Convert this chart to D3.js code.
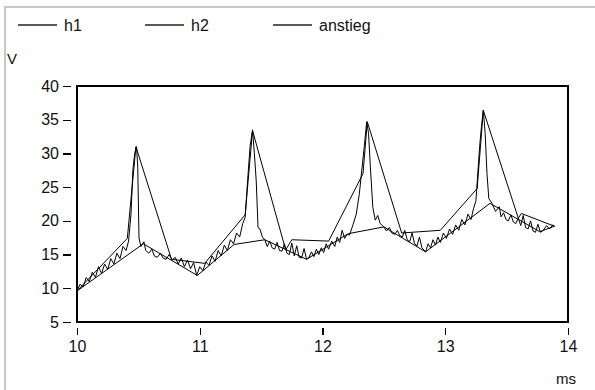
<!DOCTYPE html>
<html>
<head>
<meta charset="utf-8">
<script src="https://cdn.jsdelivr.net/npm/d3@7"></script>
<style>
  html, body { margin: 0; padding: 0; background: #fff; }
  svg { display: block; font-family: "Liberation Sans", Arial, sans-serif; }
</style>
</head>
<body>
<div id="chart"></div>
<script>
// series labels and ticks
var seriesNames = ['h1', 'h2', 'anstieg'];
var xTicks = [10, 11, 12, 13, 14];
var yTicks = [5, 10, 15, 20, 25, 30, 35, 40];

// h1: fine sampled signal [ms, V]
var h1 = [
  [10.000, 9.6], [10.025, 10.6], [10.050, 10.2], [10.075, 11.6], [10.100, 11.0],
  [10.125, 12.4], [10.150, 11.6], [10.175, 13.2], [10.200, 12.2], [10.225, 13.6],
  [10.250, 12.8], [10.275, 14.4], [10.300, 13.6], [10.325, 15.2], [10.350, 14.4],
  [10.375, 16.2], [10.400, 15.6], [10.420, 17.0], [10.440, 21.0], [10.455, 27.5],
  [10.470, 30.0], [10.485, 31.0], [10.495, 28.0], [10.505, 17.5], [10.520, 16.2],
  [10.545, 16.9], [10.560, 15.6], [10.585, 15.2], [10.610, 15.8], [10.630, 14.8],
  [10.655, 14.6], [10.680, 15.2], [10.700, 14.5], [10.725, 14.3], [10.750, 15.0],
  [10.775, 14.2], [10.800, 14.6], [10.825, 13.6], [10.850, 14.5], [10.875, 13.2],
  [10.900, 14.2], [10.925, 12.9], [10.950, 13.8], [10.975, 11.9], [11.000, 13.2],
  [11.025, 12.6], [11.050, 13.9], [11.075, 13.4], [11.100, 14.8], [11.125, 14.0],
  [11.150, 15.6], [11.175, 14.8], [11.200, 16.4], [11.225, 15.6], [11.250, 17.2],
  [11.275, 16.6], [11.300, 18.2], [11.325, 17.6], [11.350, 19.6], [11.370, 20.5],
  [11.390, 26.0], [11.410, 31.0], [11.430, 33.5], [11.445, 30.0], [11.460, 26.0],
  [11.475, 19.0], [11.490, 18.8], [11.510, 17.6], [11.530, 17.2], [11.550, 16.2],
  [11.570, 17.0], [11.590, 16.0], [11.610, 15.8], [11.630, 16.8], [11.650, 15.6],
  [11.670, 15.5], [11.690, 16.6], [11.710, 15.2], [11.730, 15.0], [11.750, 16.7],
  [11.770, 14.8], [11.790, 16.3], [11.810, 14.6], [11.830, 14.5], [11.850, 15.9],
  [11.870, 14.3], [11.890, 14.6], [11.910, 15.4], [11.930, 14.7], [11.950, 15.8],
  [11.970, 15.0], [11.990, 16.0], [12.010, 15.3], [12.030, 16.6], [12.050, 15.8],
  [12.075, 17.0], [12.100, 16.2], [12.120, 17.6], [12.140, 16.8], [12.160, 18.6],
  [12.180, 17.4], [12.200, 18.0], [12.220, 17.9], [12.250, 19.5], [12.275, 21.0],
  [12.300, 24.0], [12.320, 27.5], [12.340, 31.0], [12.360, 34.7], [12.375, 33.0],
  [12.390, 28.0], [12.410, 22.0], [12.430, 20.1], [12.450, 20.8], [12.470, 19.6],
  [12.500, 19.1], [12.520, 18.5], [12.545, 19.0], [12.565, 18.2], [12.590, 18.0],
  [12.610, 18.6], [12.630, 17.8], [12.650, 17.6], [12.670, 18.6], [12.690, 17.2],
  [12.710, 16.9], [12.730, 18.2], [12.750, 16.6], [12.770, 16.3], [12.790, 17.6],
  [12.810, 16.0], [12.840, 15.4], [12.860, 16.6], [12.880, 16.0], [12.900, 17.2],
  [12.920, 16.4], [12.940, 17.6], [12.960, 16.8], [12.985, 18.2], [13.010, 17.4],
  [13.035, 18.8], [13.060, 18.0], [13.085, 19.4], [13.110, 18.6], [13.135, 20.2],
  [13.160, 19.4], [13.185, 21.0], [13.210, 20.2], [13.230, 21.8], [13.250, 23.0],
  [13.265, 27.0], [13.280, 31.0], [13.295, 34.0], [13.310, 36.4], [13.325, 33.0],
  [13.340, 27.0], [13.355, 23.3], [13.380, 22.6], [13.410, 21.4], [13.440, 22.1],
  [13.455, 20.6], [13.475, 21.2], [13.495, 20.2], [13.515, 20.0], [13.535, 20.9],
  [13.555, 19.8], [13.575, 19.6], [13.595, 20.4], [13.615, 19.3], [13.635, 20.8],
  [13.655, 19.0], [13.675, 18.8], [13.695, 20.0], [13.715, 18.5], [13.735, 18.3],
  [13.755, 19.5], [13.775, 18.3], [13.800, 18.6], [13.825, 19.3], [13.850, 18.8],
  [13.875, 19.4], [13.890, 19.2]
];

// h2: coarse upper path
var h2 = [
  [10.00, 9.6], [10.41, 17.4], [10.48, 31.0], [10.77, 14.3], [11.04, 13.7],
  [11.37, 20.9], [11.43, 33.4], [11.70, 15.7], [11.75, 17.2], [12.05, 17.0],
  [12.33, 27.0], [12.365, 34.7], [12.645, 18.2], [12.96, 18.6], [13.26, 24.8],
  [13.31, 36.4], [13.595, 20.4], [13.62, 21.1], [13.89, 19.2]
];

// anstieg: lower piecewise path
var anstieg = [
  [10.00, 9.6], [10.54, 16.6], [10.98, 11.9], [11.28, 16.5], [11.53, 17.2],
  [11.87, 14.3], [12.21, 18.1], [12.50, 19.1], [12.84, 15.4], [13.365, 22.6],
  [13.77, 18.4], [13.89, 19.2]
];

var W = 595, H = 390;
var plot = { left: 77, right: 568, top: 86, bottom: 322 };

var svg = d3.select('#chart').append('svg')
  .attr('width', W).attr('height', H);

// outer grey frame
svg.append('rect')
  .attr('x', 5).attr('y', 7)
  .attr('width', 700).attr('height', 500)
  .attr('fill', 'none')
  .attr('stroke', '#c8c8c8')
  .attr('stroke-width', 2);

var x = d3.scaleLinear().domain([10, 14]).range([plot.left, plot.right]);
var y = d3.scaleLinear().domain([5, 40]).range([plot.bottom, plot.top]);

// plot frame
svg.append('rect')
  .attr('x', plot.left).attr('y', plot.top)
  .attr('width', plot.right - plot.left)
  .attr('height', plot.bottom - plot.top)
  .attr('fill', 'none')
  .attr('stroke', '#000')
  .attr('stroke-width', 1.2)
  .attr('shape-rendering', 'crispEdges');

// y axis (detached ticks)
var yAxis = svg.append('g')
  .attr('transform', 'translate(' + (plot.left - 6) + ',0)')
  .call(d3.axisLeft(y).tickValues(yTicks).tickSize(8).tickPadding(4));
yAxis.select('.domain').remove();

// x axis (detached ticks)
var xAxis = svg.append('g')
  .attr('transform', 'translate(0,' + (plot.bottom + 6) + ')')
  .call(d3.axisBottom(x).tickValues(xTicks).tickFormat(d3.format('d'))
    .tickSize(7).tickPadding(6));
xAxis.select('.domain').remove();

svg.selectAll('.tick line')
  .attr('stroke', '#000')
  .attr('stroke-width', 1.2)
  .attr('shape-rendering', 'crispEdges');
svg.selectAll('.tick text')
  .attr('fill', '#111')
  .style('font-size', '16px')
  .style('font-family', '"Liberation Sans", Arial, sans-serif');

// unit labels
svg.append('text').attr('x', 7).attr('y', 64)
  .style('font-size', '15px').attr('fill', '#111').text('V');
svg.append('text').attr('x', 556).attr('y', 384)
  .style('font-size', '15px').attr('fill', '#111').text('ms');

// lines
var line = d3.line()
  .x(function(d) { return x(d[0]); })
  .y(function(d) { return y(d[1]); });

[h1, h2, anstieg].forEach(function(s) {
  svg.append('path')
    .datum(s)
    .attr('d', line)
    .attr('fill', 'none')
    .attr('stroke', '#000')
    .attr('stroke-width', 1)
    .attr('stroke-linejoin', 'miter');
});

// legend
var legendX = [18, 145, 273];
seriesNames.forEach(function(name, i) {
  var g = svg.append('g').attr('transform', 'translate(' + legendX[i] + ',25)');
  g.append('line')
    .attr('x1', 0).attr('x2', 39)
    .attr('y1', 0).attr('y2', 0)
    .attr('stroke', '#222')
    .attr('stroke-width', 1.6);
  g.append('text')
    .attr('x', 46).attr('y', 6)
    .style('font-size', '16px')
    .attr('fill', '#111')
    .text(name);
});
</script>
</body>
</html>
